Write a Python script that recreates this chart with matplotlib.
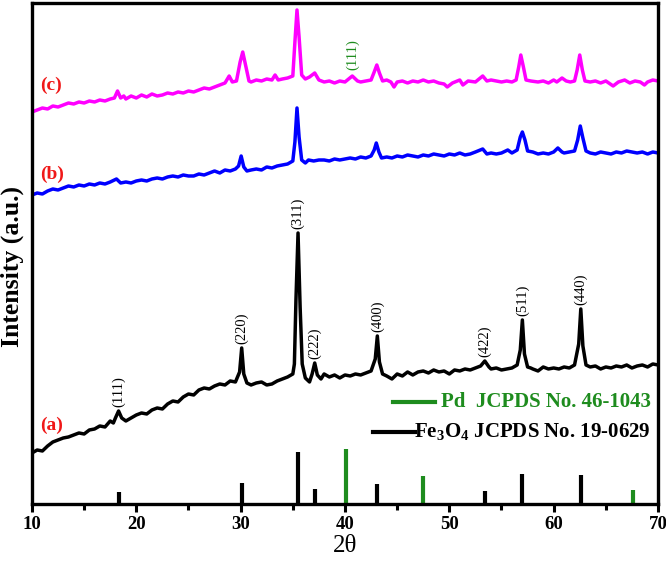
import matplotlib
matplotlib.use("Agg")
import matplotlib.pyplot as plt
from matplotlib.ticker import MultipleLocator

plt.rcParams['font.family'] = ['Liberation Serif', 'DejaVu Serif']
plt.rcParams['mathtext.fontset'] = 'custom'
plt.rcParams['mathtext.rm'] = 'Liberation Serif:bold'
plt.rcParams['mathtext.bf'] = 'Liberation Serif:bold'

# ---- data (intensity in arbitrary units, offset stacked) ----
x_a = [10.0, 10.5, 11.0, 11.5, 12.0, 12.5, 13.0, 13.5, 14.0, 14.5, 15.0, 15.5, 16.0, 16.5, 17.0, 17.5,
       17.8, 18.0, 18.3, 18.6, 19.0, 19.5, 20.0, 20.5, 21.0, 21.5, 22.0, 22.5, 23.0, 23.5, 24.0, 24.5,
       25.0, 25.5, 26.0, 26.5, 27.0, 27.5, 28.0, 28.5, 29.0, 29.5, 29.9, 30.1, 30.3, 30.6, 31.0, 31.5,
       32.0, 32.5, 33.0, 33.5, 34.0, 34.5, 35.0, 35.15, 35.3, 35.5, 35.7, 35.9, 36.2, 36.6, 36.85, 37.1,
       37.35, 37.7, 38.0, 38.5, 39.0, 39.5, 40.0, 40.5, 41.0, 41.5, 42.0, 42.5, 42.9, 43.1, 43.3, 43.6,
       44.0, 44.5, 45.0, 45.5, 46.0, 46.5, 47.0, 47.5, 48.0, 48.5, 49.0, 49.5, 50.0, 50.5, 51.0, 51.5,
       52.0, 52.5, 53.0, 53.4, 53.8, 54.0, 54.5, 55.0, 55.5, 56.0, 56.5, 56.8, 57.0, 57.2, 57.5, 57.8,
       58.0, 58.5, 59.0, 59.5, 60.0, 60.5, 61.0, 61.5, 62.0, 62.4, 62.6, 62.8, 63.1, 63.5, 64.0, 64.5,
       65.0, 65.5, 66.0, 66.5, 67.0, 67.5, 68.0, 68.5, 69.0, 69.5, 70.0]
y_a = [69, 72, 71, 76, 80, 82, 84, 85, 87, 89, 88, 92, 93, 96, 95, 101,
       99, 104, 111, 104, 101, 104, 107, 109, 108, 112, 114, 113, 118, 121, 120, 125,
       128, 127, 132, 134, 133, 136, 138, 137, 141, 140, 150, 174, 148, 139, 137, 139,
       140, 137, 138, 141, 143, 145, 148, 158, 222, 289, 215, 158, 144, 140, 148, 159,
       147, 143, 148, 145, 147, 144, 147, 146, 148, 147, 149, 151, 163, 186, 160, 148,
       146, 143, 148, 146, 150, 147, 150, 151, 149, 152, 150, 151, 148, 152, 151, 153,
       152, 154, 156, 161, 155, 153, 154, 152, 153, 154, 157, 172, 202, 168, 155, 154,
       153, 151, 155, 153, 154, 153, 155, 154, 157, 178, 213, 176, 157, 155, 156, 153,
       155, 154, 156, 155, 157, 154, 156, 157, 155, 158, 157]

x_b = [10.0, 10.5, 11.0, 11.5, 12.0, 12.5, 13.0, 13.5, 14.0, 14.5, 15.0, 15.5, 16.0, 16.5, 17.0, 17.5,
       18.1, 18.5, 19.0, 19.5, 20.0, 20.5, 21.0, 21.5, 22.0, 22.5, 23.0, 23.5, 24.0, 24.5, 25.0, 25.5,
       26.0, 26.5, 27.0, 27.5, 28.0, 28.5, 29.0, 29.5, 29.8, 30.05, 30.3, 30.6, 31.0, 31.5, 32.0, 32.5,
       33.0, 33.5, 34.0, 34.5, 35.0, 35.2, 35.4, 35.6, 35.85, 36.2, 36.5, 37.0, 37.5, 38.0, 38.5, 39.0,
       39.5, 40.0, 40.5, 41.0, 41.5, 42.0, 42.5, 42.8, 43.0, 43.25, 43.5, 44.0, 44.5, 45.0, 45.5, 46.0,
       46.5, 47.0, 47.5, 48.0, 48.5, 49.0, 49.5, 50.0, 50.5, 51.0, 51.5, 52.0, 52.5, 53.2, 53.6, 54.0,
       54.5, 55.0, 55.6, 56.0, 56.5, 56.8, 57.0, 57.25, 57.5, 58.0, 58.5, 59.0, 59.5, 60.0, 60.4, 60.8,
       61.0, 61.5, 62.0, 62.3, 62.55, 62.8, 63.1, 63.5, 64.0, 64.5, 65.0, 65.5, 66.0, 66.5, 67.0, 67.5,
       68.0, 68.5, 69.0, 69.5, 70.0]
y_b = [327, 329, 328, 331, 333, 332, 334, 336, 335, 337, 336, 338, 337, 339, 338, 340,
       343, 339, 340, 339, 341, 342, 341, 343, 344, 343, 345, 346, 345, 347, 346, 346,
       348, 347, 349, 351, 349, 352, 351, 353, 356, 366, 355, 351, 352, 353, 352, 355,
       354, 356, 357, 358, 361, 380, 414, 385, 362, 359, 362, 361, 362, 362, 361, 363,
       362, 363, 364, 363, 365, 364, 366, 372, 379, 370, 364, 365, 364, 366, 365, 367,
       366, 365, 367, 366, 368, 367, 366, 368, 367, 369, 367, 368, 370, 373, 368, 369,
       368, 369, 372, 369, 372, 385, 390, 382, 371, 370, 368, 369, 368, 370, 374, 370,
       369, 370, 371, 382, 396, 384, 371, 369, 368, 370, 369, 368, 370, 369, 371, 370,
       369, 370, 368, 370, 369]

x_c = [10.0, 10.5, 11.0, 11.5, 12.0, 12.5, 13.0, 13.5, 14.0, 14.5, 15.0, 15.5, 16.0, 16.5, 17.0, 17.5,
       17.9, 18.2, 18.5, 18.8, 19.0, 19.5, 20.0, 20.5, 21.0, 21.5, 22.0, 22.5, 23.0, 23.5, 24.0, 24.5,
       25.0, 25.5, 26.0, 26.5, 27.0, 27.5, 28.0, 28.5, 28.9, 29.2, 29.6, 29.95, 30.2, 30.45, 30.8, 31.0,
       31.5, 32.0, 32.5, 33.0, 33.3, 33.6, 34.0, 34.5, 35.0, 35.2, 35.4, 35.6, 35.85, 36.2, 36.6, 37.1,
       37.5, 38.0, 38.5, 39.0, 39.5, 40.0, 40.7, 41.2, 41.5, 42.0, 42.5, 42.8, 43.05, 43.3, 43.6, 44.0,
       44.4, 44.7, 45.0, 45.5, 46.0, 46.5, 47.0, 47.5, 48.0, 48.5, 49.0, 49.5, 49.8, 50.3, 51.0, 51.3,
       51.8, 52.5, 53.2, 53.6, 54.0, 54.5, 55.0, 55.5, 56.0, 56.4, 56.65, 56.85, 57.1, 57.35, 57.8, 58.5,
       59.0, 59.5, 60.0, 60.3, 60.8, 61.2, 61.6, 62.0, 62.25, 62.5, 62.75, 63.0, 63.5, 64.0, 64.5, 65.0,
       65.7, 66.2, 66.8, 67.3, 67.8, 68.3, 68.7, 69.0, 69.5, 70.0]
y_c = [410, 412, 414, 413, 416, 415, 417, 419, 418, 420, 419, 421, 420, 422, 421, 423,
       424, 431, 424, 426, 423, 426, 424, 427, 425, 428, 426, 427, 429, 428, 430, 429,
       431, 430, 432, 434, 433, 435, 437, 439, 446, 440, 441, 460, 470, 458, 441, 440,
       442, 441, 443, 442, 447, 442, 443, 444, 446, 480, 512, 485, 447, 443, 445, 449,
       442, 440, 441, 439, 441, 440, 446, 441, 440, 441, 442, 450, 457, 449, 441, 442,
       440, 435, 440, 441, 439, 441, 440, 442, 440, 441, 439, 438, 435, 439, 442, 437,
       441, 440, 446, 441, 442, 441, 440, 441, 440, 442, 455, 467, 455, 442, 441, 440,
       441, 439, 442, 440, 444, 441, 440, 441, 452, 467, 452, 441, 440, 441, 439, 441,
       436, 440, 442, 439, 441, 440, 437, 440, 442, 441]

# reference patterns (stick heights)
fe_pos = [18.3, 30.1, 35.5, 37.1, 43.1, 53.4, 57.0, 62.6]
fe_int = [12, 21, 52, 15, 20, 13, 30, 29]
pd_pos = [40.1, 47.5, 67.6]
pd_int = [55, 28, 14]

# peak labels for curve (a)
hkl_labels = ['(111)', '(220)', '(311)', '(222)', '(400)', '(422)', '(511)', '(440)']
hkl_pos = [18.3, 30.1, 35.5, 37.1, 43.1, 53.4, 57.0, 62.6]
hkl_top = [111, 174, 289, 159, 186, 161, 202, 213]

curve_tags = ['(a)', '(b)', '(c)']
curve_tag_y = [97, 348, 437]

legend_labels = ['Pd  JCPDS No. 46-1043', r'Fe$_3$O$_4$ JCPDS No. 19-0629']

YMIN, YMAX = 18, 519
GREEN = '#1e8c1e'
RED = '#f01818'

fig = plt.figure(figsize=(6.66, 5.65), dpi=100)
ax = fig.add_axes([0.048, 0.108, 0.940, 0.8867])

lw = 2.5
ax.plot(x_a, y_a, color='black', lw=lw, solid_joinstyle='round')
ax.plot(x_b, y_b, color='#0000ff', lw=lw, solid_joinstyle='round')
ax.plot(x_c, y_c, color='#ff00ff', lw=lw, solid_joinstyle='round')

ax.vlines(fe_pos, YMIN, [YMIN + h for h in fe_int], color='black', lw=3)
ax.vlines(pd_pos, YMIN, [YMIN + h for h in pd_int], color=GREEN, lw=3)

for lab, xp, yt in zip(hkl_labels, hkl_pos, hkl_top):
    ax.text(xp, yt + 4, lab, rotation=90, ha='center', va='bottom', fontsize=10.5)

ax.text(40.7, 452, '(111)', rotation=90, ha='center', va='bottom', fontsize=10.5, color=GREEN)

for tag, ty in zip(curve_tags, curve_tag_y):
    ax.text(10.8, ty, tag, color=RED, fontsize=14, fontweight='bold', ha='left', va='center')

# legend for reference patterns
ax.plot([44.6, 48.6], [120, 120], color=GREEN, lw=3)
ax.text(69.3, 120, legend_labels[0], color=GREEN, fontsize=15, fontweight='bold',
        ha='right', va='center')
ax.plot([42.7, 46.7], [90, 90], color='black', lw=3)
ax.text(69.3, 90, legend_labels[1], color='black', fontsize=15, fontweight='bold',
        ha='right', va='center')

ax.set_xlim(10, 70)
ax.set_ylim(YMIN, YMAX)
ax.xaxis.set_major_locator(MultipleLocator(10))
ax.xaxis.set_minor_locator(MultipleLocator(5))
ax.set_yticks([])
ax.tick_params(axis='x', which='major', direction='out', length=6, width=2.2, labelsize=13.5, pad=3)
ax.tick_params(axis='x', which='minor', direction='out', length=4, width=2.2)
for lbl in ax.get_xticklabels():
    lbl.set_fontweight('bold')
for sp in ax.spines.values():
    sp.set_linewidth(2.4)

ax.set_xlabel('2θ', fontsize=18, labelpad=1)
ax.set_ylabel('Intensity (a.u.)', fontsize=18.5, fontweight='bold')
ax.yaxis.set_label_coords(-0.012, 0.475)

fig.savefig('out.png', dpi=100)
